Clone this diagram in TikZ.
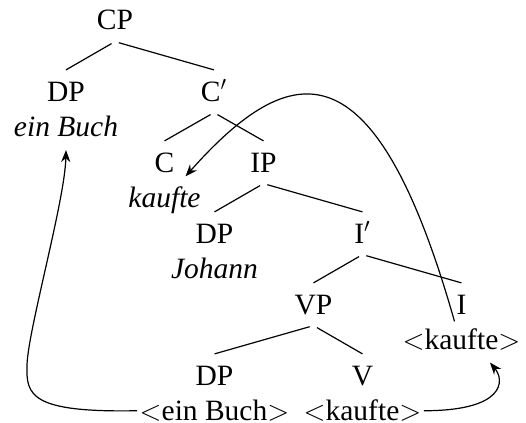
\documentclass[tikz,border=0pt]{standalone}
\usepackage{fontspec}
\setmainfont{Liberation Serif}
\usepackage{tikz}
\usetikzlibrary{arrows,arrows.meta,trees}
\tikzstyle{cat}=[inner xsep=1pt,inner ysep=5.5pt,text height=9.76pt,text depth=0pt]
\tikzstyle{word}=[cat,inner ysep=1pt,anchor=base]
\tikzstyle{move}=[-{Stealth[length=6pt,width=4.6pt,inset=2pt]},semithick]
\tikzstyle{wideright}=[grow via three points={one child at (0pt,-35.5pt) and two children at (-24.5pt,-35.5pt) and (49.5pt,-35.5pt)}]
\tikzstyle{wideleft}=[grow via three points={one child at (0pt,-35.5pt) and two children at (-49.5pt,-35.5pt) and (24.5pt,-35.5pt)}]
\tikzstyle{narrow}=[grow via three points={one child at (0pt,-35.5pt) and two children at (-24.75pt,-35.5pt) and (24.75pt,-35.5pt)}]

\begin{document}
\begin{tikzpicture}[x=0.5pt,y=0.5pt,semithick,font=\fontsize{14.75}{17.75}\selectfont,
  parent anchor=south,child anchor=north,
  edge from parent/.style={draw,shorten <=2pt}]
\useasboundingbox (0,0) rectangle (526,-423);
\node [cat] (cp) at (115,-20.24) {CP} [wideright]
  child {node [cat] (dpa) {DP}}
  child {node [cat] (cbar) {C$'$} [narrow]
    child {node [cat] (c) {C}}
    child {node [cat] (ip) {IP} [wideright]
      child {node [cat] (dpb) {DP}}
      child {node [cat] (ibar) {I$'$} [wideright]
        child {node [cat] (vp) {VP} [wideleft]
          child {node [cat] (dpc) {DP}}
          child {node [cat] (v) {V}}
        }
        child {node [cat] (i) {I}}
      }
    }
  };
% words under the labels
\node [word] (wbuch) at ([yshift=-17.75pt]dpa.base) {\textit{ein Buch}};
\node [word] (wkaufc) at ([yshift=-17.75pt]c.base) {\textit{kaufte}};
\node [word] (wjoh) at ([yshift=-17.75pt]dpb.base) {\textit{Johann}};
\node [word] (wkaufi) at ([yshift=-17.75pt]i.base) {$<$kaufte$>$};
\node [word] (wbuchtr) at ([yshift=-17.75pt]dpc.base) {$<$ein Buch$>$};
\node [word] (wkaufv) at ([yshift=-17.75pt]v.base) {$<$kaufte$>$};
% movement
\coordinate (bend) at (27,-365);
\draw [move] (wbuchtr.west) .. controls +(-107,-2) and +(-1,-30) .. (bend)
  .. controls +(1,35) and +(-1,-50) .. ([yshift=-5.5pt]wbuch.south);
\draw [move] ([xshift=-3.5pt,yshift=3pt]wkaufi.north) .. controls +(-80,282) and +(105,118)
  .. ([xshift=10.5pt,yshift=4.5pt]wkaufc.north);
\draw [move] (wkaufv.east) .. controls +(81,0) and +(15,-18)
  .. ([xshift=14.25pt,yshift=-5.25pt]wkaufi.south);
\end{tikzpicture}
\end{document}
